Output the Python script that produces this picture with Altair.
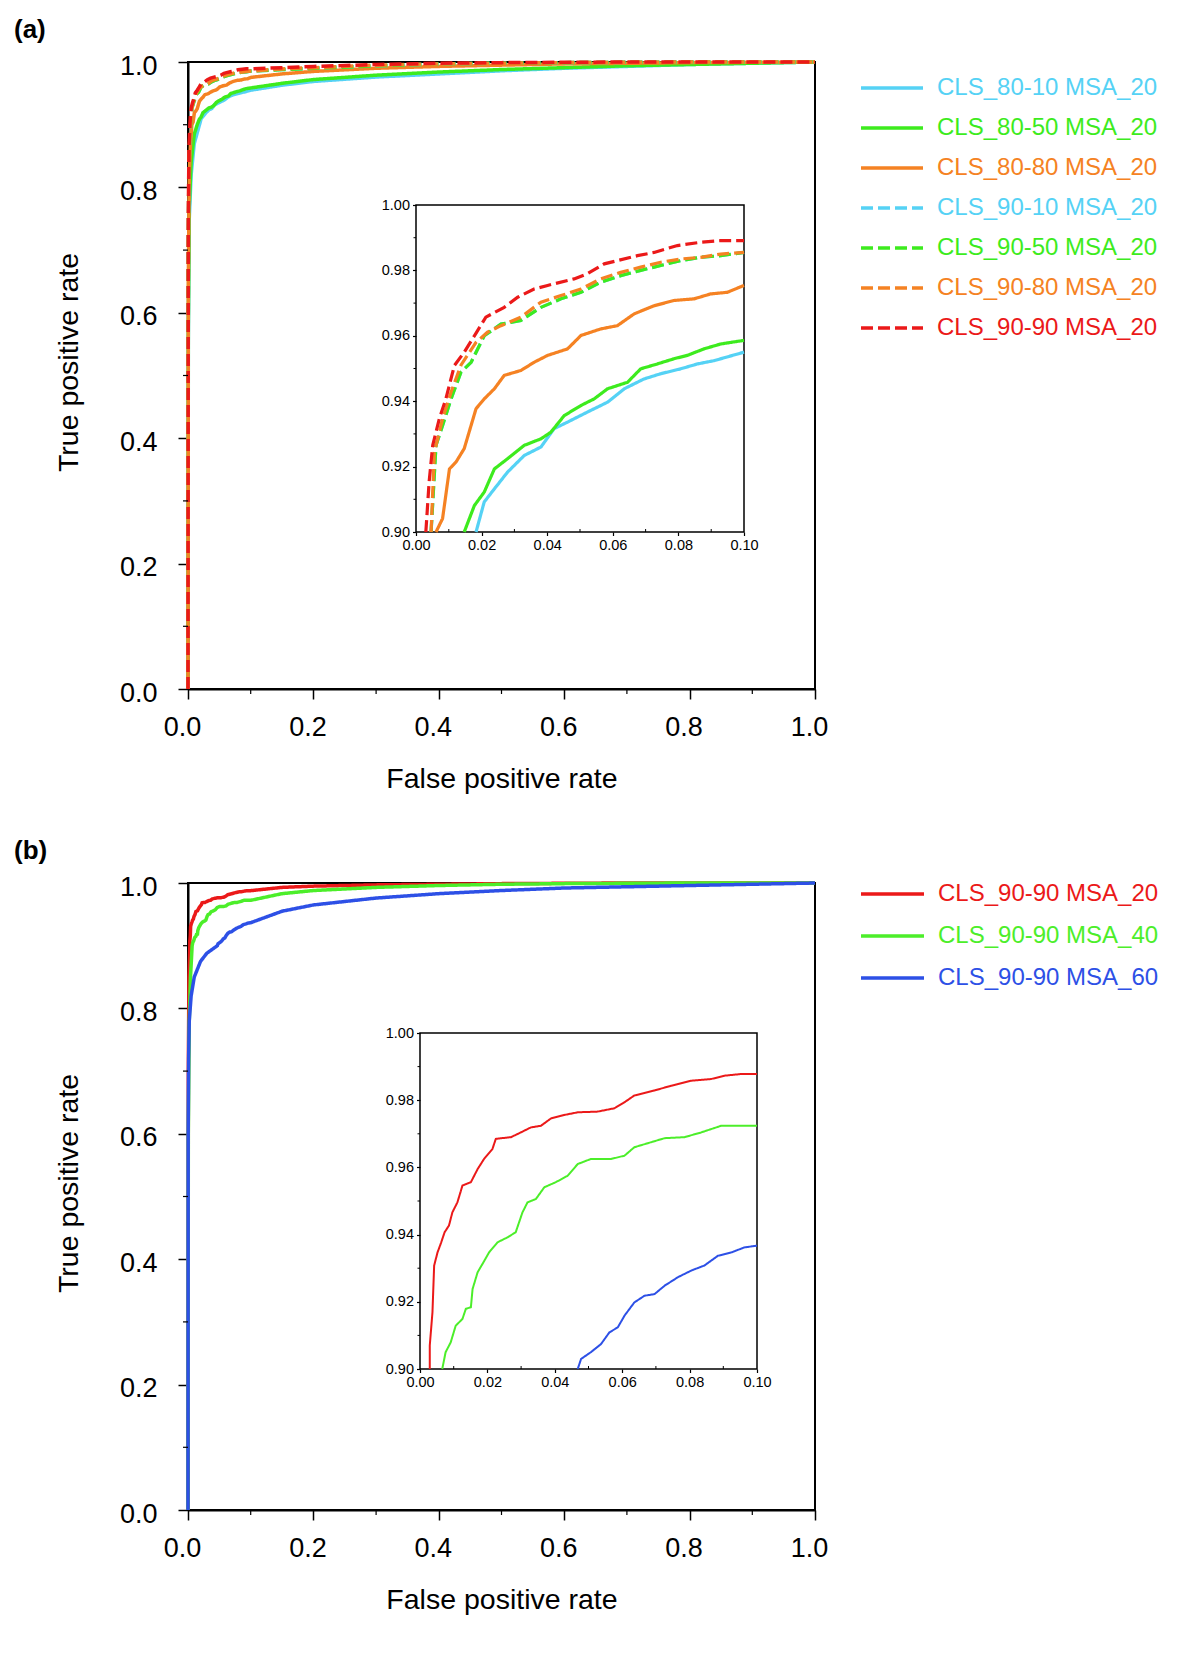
import altair as alt
import pandas as pd

FONT = "Liberation Sans"

# ---------------- Panel (a) data ----------------
names_a = ["CLS_80-10 MSA_20", "CLS_80-50 MSA_20", "CLS_80-80 MSA_20",
           "CLS_90-10 MSA_20", "CLS_90-50 MSA_20", "CLS_90-80 MSA_20",
           "CLS_90-90 MSA_20"]
colors_a = ["#55d2f5", "#3deb1e", "#f58223", "#55d2f5", "#3deb1e", "#f58223", "#eb1919"]
dash_solid = [1, 0]
dash_dashed = [12, 5]
dashes_a = [dash_solid, dash_solid, dash_solid, dash_dashed, dash_dashed, dash_dashed, dash_dashed]

fpr_80_10 = [0, 0.0005, 0.002, 0.005, 0.01, 0.0183, 0.0208, 0.0239, 0.0279, 0.033, 0.0381, 0.0421,
             0.0462, 0.0523, 0.0584, 0.0635, 0.0695, 0.0746, 0.0807, 0.0858, 0.0909, 0.1,
             0.15, 0.2, 0.3, 0.4, 0.5, 0.6, 0.7, 0.8, 0.9, 1.0]
tpr_80_10 = [0, 0.55, 0.75, 0.82, 0.87, 0.90, 0.9092, 0.9132, 0.9183, 0.9234, 0.926, 0.9316,
             0.9336, 0.9367, 0.9397, 0.9438, 0.9468, 0.9484, 0.9499, 0.9514, 0.9524, 0.955,
             0.963, 0.969, 0.976, 0.981, 0.986, 0.990, 0.993, 0.996, 0.998, 1.0]

fpr_80_50 = [0, 0.0005, 0.002, 0.005, 0.01, 0.0147, 0.0178, 0.0208, 0.0239, 0.0279, 0.033, 0.0381,
             0.0411, 0.0452, 0.0503, 0.0543, 0.0584, 0.0645, 0.0685, 0.0736, 0.0787, 0.0827,
             0.0878, 0.0929, 0.1, 0.15, 0.2, 0.3, 0.4, 0.5, 0.6, 0.7, 0.8, 0.9, 1.0]
tpr_80_50 = [0, 0.58, 0.77, 0.84, 0.885, 0.90, 0.9081, 0.9122, 0.9193, 0.9224, 0.9265, 0.9285,
             0.9305, 0.9356, 0.9387, 0.9407, 0.9438, 0.9458, 0.9499, 0.9514, 0.953, 0.954,
             0.956, 0.9575, 0.9586, 0.966, 0.972, 0.979, 0.984, 0.988, 0.991, 0.994, 0.996, 0.998, 1.0]

fpr_80_80 = [0, 0.0005, 0.002, 0.004, 0.0061, 0.0081, 0.0102, 0.0122, 0.0147, 0.0168, 0.0183,
             0.0208, 0.0239, 0.0269, 0.032, 0.036, 0.0401, 0.0462, 0.0503, 0.0563, 0.0614,
             0.0665, 0.0726, 0.0787, 0.0848, 0.0898, 0.0949, 0.1, 0.15, 0.2, 0.3, 0.4, 0.5,
             0.6, 0.7, 0.8, 0.9, 1.0]
tpr_80_80 = [0, 0.65, 0.82, 0.87, 0.90, 0.9041, 0.9193, 0.9214, 0.9255, 0.9326, 0.9377,
             0.9407, 0.9438, 0.9479, 0.9494, 0.9519, 0.954, 0.956, 0.9601, 0.9621, 0.9631,
             0.9667, 0.9692, 0.9708, 0.9713, 0.9728, 0.9733, 0.9754, 0.981, 0.985, 0.990, 0.993,
             0.995, 0.997, 0.998, 0.999, 0.9995, 1.0]

fpr_90_10 = [0, 0.0005, 0.0015, 0.003, 0.0046, 0.0061, 0.0081, 0.0107, 0.0137, 0.0168, 0.0208,
             0.0259, 0.032, 0.0381, 0.0442, 0.0503, 0.0563, 0.0624, 0.0685, 0.0746, 0.0807,
             0.0868, 0.0929, 0.1, 0.15, 0.2, 0.3, 0.4, 0.5, 0.6, 0.7, 0.8, 0.9, 1.0]
tpr_90_10 = [0, 0.7, 0.83, 0.88, 0.90, 0.9265, 0.9326, 0.9407, 0.9489, 0.9519, 0.960,
             0.9636, 0.9647, 0.9687, 0.9713, 0.9733, 0.9764, 0.9784, 0.980, 0.9815, 0.983,
             0.984, 0.9845, 0.9855, 0.988, 0.990, 0.994, 0.997, 0.998, 0.999, 0.9995, 1.0, 1.0, 1.0]

fpr_90_50 = [0, 0.0005, 0.0015, 0.003, 0.0046, 0.0061, 0.0081, 0.0107, 0.0137, 0.0168, 0.0208,
             0.0259, 0.032, 0.0381, 0.0442, 0.0503, 0.0563, 0.0624, 0.0685, 0.0746, 0.0807,
             0.0868, 0.0929, 0.1, 0.15, 0.2, 0.3, 0.4, 0.5, 0.6, 0.7, 0.8, 0.9, 1.0]
tpr_90_50 = [0, 0.7, 0.83, 0.88, 0.90, 0.9265, 0.9326, 0.9407, 0.9489, 0.9519, 0.960,
             0.9636, 0.9647, 0.9687, 0.9713, 0.9733, 0.9764, 0.9784, 0.980, 0.9815, 0.983,
             0.984, 0.9845, 0.9855, 0.988, 0.990, 0.994, 0.997, 0.998, 0.999, 0.9995, 1.0, 1.0, 1.0]

fpr_90_80 = [0, 0.0005, 0.0015, 0.003, 0.0046, 0.0056, 0.0081, 0.0107, 0.0137, 0.0183, 0.0218,
             0.0259, 0.032, 0.0381, 0.0442, 0.0503, 0.0563, 0.0624, 0.0685, 0.0746, 0.0807,
             0.0868, 0.0929, 0.1, 0.15, 0.2, 0.3, 0.4, 0.5, 0.6, 0.7, 0.8, 0.9, 1.0]
tpr_90_80 = [0, 0.72, 0.84, 0.885, 0.90, 0.9244, 0.9346, 0.9428, 0.951, 0.958, 0.9611,
             0.9631, 0.9657, 0.9703, 0.9723, 0.9743, 0.9774, 0.9794, 0.981, 0.9825, 0.9835,
             0.984, 0.985, 0.9855, 0.989, 0.991, 0.995, 0.997, 0.998, 0.999, 0.9995, 1.0, 1.0, 1.0]

fpr_90_90 = [0, 0.0005, 0.0015, 0.003, 0.004, 0.0051, 0.0071, 0.0091, 0.0117, 0.0147, 0.0178,
             0.0213, 0.0269, 0.031, 0.036, 0.0401, 0.0482, 0.0523, 0.0574, 0.0614, 0.0675,
             0.0726, 0.0797, 0.0868, 0.0929, 0.1, 0.15, 0.2, 0.3, 0.4, 0.5, 0.6, 0.7, 0.8, 0.9, 1.0]
tpr_90_90 = [0, 0.75, 0.86, 0.90, 0.9153, 0.9265, 0.9346, 0.9407, 0.9509, 0.955, 0.960,
             0.9657, 0.9687, 0.9718, 0.9743, 0.9754, 0.9774, 0.979, 0.982, 0.983, 0.9845,
             0.9855, 0.9876, 0.9886, 0.9891, 0.9891, 0.991, 0.993, 0.996, 0.998, 0.999, 0.9995,
             1.0, 1.0, 1.0, 1.0]

fprs_a = [fpr_80_10, fpr_80_50, fpr_80_80, fpr_90_10, fpr_90_50, fpr_90_80, fpr_90_90]
tprs_a = [tpr_80_10, tpr_80_50, tpr_80_80, tpr_90_10, tpr_90_50, tpr_90_80, tpr_90_90]

# ---------------- Panel (b) data ----------------
names_b = ["CLS_90-90 MSA_20", "CLS_90-90 MSA_40", "CLS_90-90 MSA_60"]
colors_b = ["#eb1919", "#4cee2a", "#2d50e6"]
dashes_b = [dash_solid, dash_solid, dash_solid]

fpr_msa20 = [0, 0.0005, 0.0015, 0.0029, 0.0029, 0.0037, 0.0042, 0.0052, 0.0063, 0.0073, 0.0086,
             0.0096, 0.0111, 0.0126, 0.0151, 0.0171, 0.019, 0.0215, 0.0225, 0.027, 0.0299,
             0.0329, 0.0359, 0.0389, 0.0428, 0.0468, 0.0527, 0.0577, 0.0607, 0.0636, 0.0696,
             0.0745, 0.0805, 0.0864, 0.0904, 0.0953, 0.1, 0.15, 0.2, 0.3, 0.4, 0.5, 0.6, 0.7,
             0.8, 0.9, 1.0]
tpr_msa20 = [0, 0.7, 0.85, 0.90, 0.907, 0.9169, 0.9308, 0.9347, 0.9377, 0.9407, 0.9427,
             0.9466, 0.9496, 0.9546, 0.9556, 0.9595, 0.9625, 0.9655, 0.9685, 0.969, 0.9704,
             0.9719, 0.9724, 0.9746, 0.9756, 0.9764, 0.9766, 0.9776, 0.9794, 0.9814, 0.9829,
             0.9843, 0.9858, 0.9863, 0.9873, 0.9878, 0.9878, 0.993, 0.995, 0.997, 0.998, 0.999,
             0.9995, 1.0, 1.0, 1.0, 1.0]

fpr_msa40 = [0, 0.0005, 0.002, 0.004, 0.0066, 0.0076, 0.0091, 0.0106, 0.0126, 0.0136, 0.0151,
             0.0156, 0.0171, 0.0185, 0.0205, 0.023, 0.026, 0.0284, 0.0304, 0.0319, 0.0344,
             0.0369, 0.0403, 0.0438, 0.0468, 0.0507, 0.0567, 0.0607, 0.0636, 0.0686, 0.0726,
             0.0785, 0.0834, 0.0894, 0.1, 0.15, 0.2, 0.3, 0.4, 0.5, 0.6, 0.7, 0.8, 0.9, 1.0]
tpr_msa40 = [0, 0.6, 0.78, 0.85, 0.90, 0.905, 0.9079, 0.9129, 0.9149, 0.9179, 0.9184,
             0.9238, 0.9288, 0.9312, 0.9347, 0.9377, 0.9392, 0.9407, 0.9466, 0.9496, 0.9506,
             0.9541, 0.9556, 0.9575, 0.961, 0.9625, 0.9625, 0.9635, 0.966, 0.9675, 0.9687,
             0.969, 0.9704, 0.9724, 0.9724, 0.983, 0.988, 0.993, 0.996, 0.998, 0.999, 0.9995,
             1.0, 1.0, 1.0]

fpr_msa60 = [0, 0.0003, 0.001, 0.002, 0.005, 0.01, 0.02, 0.03, 0.0468, 0.0478, 0.0507,
             0.0537, 0.0562, 0.0587, 0.0607, 0.0636, 0.0666, 0.0696, 0.0726, 0.0765, 0.0805,
             0.0844, 0.0884, 0.0924, 0.0963, 0.1, 0.15, 0.2, 0.3, 0.4, 0.5, 0.6, 0.7, 0.8, 0.9, 1.0]
tpr_msa60 = [0, 0.6, 0.72, 0.78, 0.82, 0.85, 0.875, 0.888, 0.90, 0.903, 0.905,
             0.9074, 0.9109, 0.9124, 0.9159, 0.9198, 0.9218, 0.9223, 0.9248, 0.9273, 0.9293,
             0.9308, 0.9337, 0.9347, 0.9362, 0.9367, 0.955, 0.965, 0.976, 0.983, 0.988, 0.992,
             0.994, 0.996, 0.998, 1.0]

fprs_b = [fpr_msa20, fpr_msa40, fpr_msa60]
tprs_b = [tpr_msa20, tpr_msa40, tpr_msa60]

# tick values
main_major = [0.0, 0.2, 0.4, 0.6, 0.8, 1.0]
main_minor = [0.1, 0.3, 0.5, 0.7, 0.9]
inset_x_major = [0.0, 0.02, 0.04, 0.06, 0.08, 0.10]
inset_x_minor = [0.01, 0.03, 0.05, 0.07, 0.09]
inset_y_major = [0.90, 0.92, 0.94, 0.96, 0.98, 1.00]
inset_y_minor = [0.91, 0.93, 0.95, 0.97, 0.99]

X_TITLE = "False positive rate"
Y_TITLE = "True positive rate"

W = 627
H = 627


def build_df(names, fprs, tprs):
    rows = []
    for n, xs, ys in zip(names, fprs, tprs):
        for i, (x, y) in enumerate(zip(xs, ys)):
            rows.append({"series": n, "fpr": x, "tpr": y, "idx": i})
    return pd.DataFrame(rows)


def panel(label, names, colors, dashes, fprs, tprs, inset_xr, inset_yr, inset_lw,
          legend_yr, legend_xr):
    df = build_df(names, fprs, tprs)
    color = alt.Color("series:N", scale=alt.Scale(domain=names, range=colors), legend=None)
    dash = alt.StrokeDash("series:N", scale=alt.Scale(domain=names, range=dashes), legend=None)
    order = alt.Order("idx:Q")

    # ---- main plot (shared main scales) ----
    msx = alt.Scale(domain=[0, 1], nice=False)
    msy = alt.Scale(domain=[0, 1], nice=False)

    x_axis = alt.Axis(orient="bottom", values=main_major, format=".1f", grid=False, tickSize=10,
                      tickWidth=1.5, tickColor="black", domainColor="black", domainWidth=2,
                      labelFont=FONT, labelFontSize=27, labelColor="black", labelPadding=15,
                      labelOffset=-6, labelFlush=False, titleFont=FONT, titleFontSize=28.5,
                      titleFontWeight="normal", titleColor="black", titlePadding=24)
    y_axis = alt.Axis(orient="left", values=main_major, format=".1f", grid=False, tickSize=10,
                      tickWidth=1.5, tickColor="black", domainColor="black", domainWidth=2,
                      labelFont=FONT, labelFontSize=27, labelColor="black", labelPadding=21,
                      labelOffset=4, labelFlush=False, titleFont=FONT, titleFontSize=28.5,
                      titleFontWeight="normal", titleColor="black", titleX=-105, titleY=300)

    main_lines = alt.Chart(df).mark_line(strokeWidth=3.5).encode(
        x=alt.X("fpr:Q", scale=msx, axis=x_axis, title=X_TITLE),
        y=alt.Y("tpr:Q", scale=msy, axis=y_axis, title=Y_TITLE),
        color=color, strokeDash=dash, order=order)

    minor_main_df = pd.DataFrame({"v": main_minor})
    main_xminor = alt.Chart(minor_main_df).mark_tick(
        orient="vertical", size=5, thickness=1.2, color="black", opacity=1, yOffset=2.5
    ).encode(x=alt.X("v:Q", scale=msx, axis=x_axis, title=X_TITLE),
             y=alt.Y(datum=0, scale=msy, axis=y_axis, title=Y_TITLE))
    main_yminor = alt.Chart(minor_main_df).mark_tick(
        orient="horizontal", size=5, thickness=1.2, color="black", opacity=1, xOffset=-2.5
    ).encode(y=alt.Y("v:Q", scale=msy, axis=y_axis, title=Y_TITLE),
             x=alt.X(datum=0, scale=msx, axis=x_axis, title=X_TITLE))

    main_sub = alt.layer(main_lines, main_xminor, main_yminor)

    # ---- invisible balancing axes (top/right) ----
    anchor_df = pd.DataFrame({"x0": [0.0], "x1": [0.1], "y0": [0.9], "y1": [1.0]})
    dummy = alt.Chart(anchor_df).mark_point(opacity=0).encode(
        x=alt.X("x0:Q", scale=alt.Scale(domain=[0, 1]),
                axis=alt.Axis(orient="top", labels=False, ticks=False, domain=False, grid=False,
                              minExtent=0, title=None)),
        y=alt.Y("y0:Q", scale=alt.Scale(domain=[0, 1]),
                axis=alt.Axis(orient="right", labels=False, ticks=False, domain=False,
                              grid=False, minExtent=0, title=None)))

    # ---- inset (shared inset scales) ----
    isx = alt.Scale(domain=[0, 0.1], range=inset_xr, nice=False)
    isy = alt.Scale(domain=[0.9, 1.0], range=inset_yr, nice=False)
    ix_axis = alt.Axis(orient="bottom", offset=-(H - inset_yr[0]), values=inset_x_major,
                       format=".2f", grid=False, domain=False, tickSize=3.5, tickWidth=1.2,
                       tickColor="black", labelFont=FONT, labelFontSize=14.5,
                       labelColor="black", labelPadding=3, labelFlush=False, zindex=1,
                       minExtent=0, title=None)
    iy_axis = alt.Axis(orient="left", offset=-inset_xr[0], values=inset_y_major,
                       format=".2f", grid=False, domain=False, tickSize=3.5, tickWidth=1.2,
                       tickColor="black", labelFont=FONT, labelFontSize=14.5,
                       labelColor="black", labelPadding=3, labelFlush=False, zindex=1,
                       minExtent=0, title=None)

    inset_frame = alt.Chart(anchor_df).mark_rect(fill="white", stroke="black", strokeWidth=1.5).encode(
        x=alt.X("x0:Q", scale=isx, axis=ix_axis), x2="x1:Q",
        y=alt.Y("y0:Q", scale=isy, axis=iy_axis), y2="y1:Q")

    inset_lines = alt.Chart(df).transform_filter(
        "datum.fpr <= 0.1 && datum.tpr >= 0.9"
    ).mark_line(strokeWidth=inset_lw).encode(
        x=alt.X("fpr:Q", scale=isx, axis=ix_axis),
        y=alt.Y("tpr:Q", scale=isy, axis=iy_axis),
        color=color, strokeDash=dash, order=order)

    ixm_df = pd.DataFrame({"v": inset_x_minor})
    iym_df = pd.DataFrame({"v": inset_y_minor})
    inset_xminor = alt.Chart(ixm_df).mark_tick(
        orient="vertical", size=3, thickness=1, color="black", opacity=1, yOffset=-1.5
    ).encode(x=alt.X("v:Q", scale=isx, axis=ix_axis),
             y=alt.Y(datum=0.9, scale=isy, axis=iy_axis))
    inset_yminor = alt.Chart(iym_df).mark_tick(
        orient="horizontal", size=2.5, thickness=1, color="black", opacity=1, xOffset=-1.25
    ).encode(y=alt.Y("v:Q", scale=isy, axis=iy_axis),
             x=alt.X(datum=0, scale=isx, axis=ix_axis))

    inset_sub = alt.layer(inset_frame, inset_xminor, inset_yminor, inset_lines)

    # ---- legend (own scales) ----
    leg_df = pd.DataFrame({"series": names, "rank": list(range(len(names))),
                           "x0": [0.0] * len(names), "x1": [1.0] * len(names)})
    lsx = alt.Scale(domain=[0, 1], range=legend_xr, nice=False)
    lsy = alt.Scale(domain=[0, len(names) - 1], range=legend_yr, nice=False)

    leg_rule = alt.Chart(leg_df).mark_rule(strokeWidth=3.5).encode(
        x=alt.X("x0:Q", scale=lsx, axis=None), x2="x1:Q",
        y=alt.Y("rank:Q", scale=lsy, axis=None),
        color=color, strokeDash=dash)
    leg_text = alt.Chart(leg_df).mark_text(align="left", baseline="middle", dx=14,
                                           font=FONT, fontSize=24).encode(
        x=alt.X("x1:Q", scale=lsx, axis=None),
        y=alt.Y("rank:Q", scale=lsy, axis=None),
        text="series:N", color=color)
    legend_sub = alt.layer(leg_rule, leg_text)

    return alt.layer(
        main_sub, dummy, inset_sub, legend_sub
    ).resolve_scale(x="independent", y="independent").properties(
        width=W, height=H,
        title=alt.TitleParams(label, anchor="start", frame="group", dx=-174, fontSize=26,
                              fontWeight="bold", font=FONT, color="black",
                              baseline="alphabetic", offset=-12))


panel_a = panel("(a)", names_a, colors_a, dashes_a, fprs_a, tprs_a,
                inset_xr=[228, 556], inset_yr=[470, 143], inset_lw=3.2,
                legend_yr=[26, 266], legend_xr=[673, 735])
panel_b = panel("(b)", names_b, colors_b, dashes_b, fprs_b, tprs_b,
                inset_xr=[232, 569], inset_yr=[486, 150], inset_lw=2.0,
                legend_yr=[11, 95], legend_xr=[673, 736])

chart = alt.vconcat(panel_a, panel_b, spacing=43).resolve_scale(
    color="independent", strokeDash="independent"
).properties(
    padding={"left": 5, "top": 8, "right": 5, "bottom": 5}
).configure_view(stroke="black", strokeWidth=2)

chart.save("out.html", embed_options={"renderer": "svg", "actions": False})
